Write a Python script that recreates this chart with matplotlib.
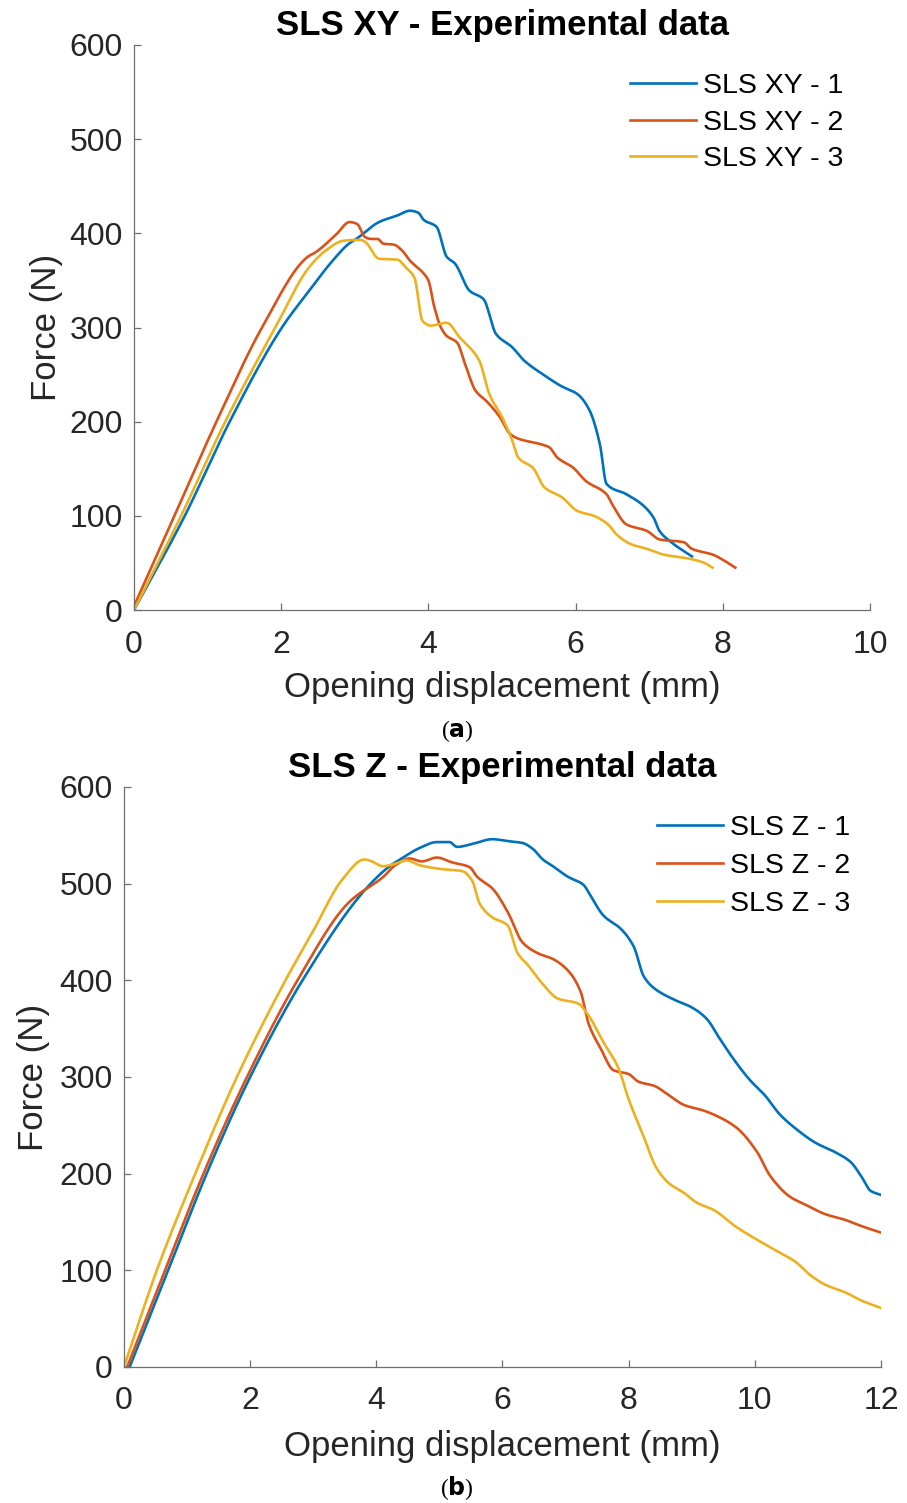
import numpy as np
import matplotlib
matplotlib.use("Agg")
import matplotlib.pyplot as plt

plt.rcParams['font.family'] = ['Liberation Sans', 'DejaVu Sans']

# MATLAB default line colours
colors = ['#0072BD', '#D95319', '#EDB120']

# SLS XY - opening displacement (mm) / force (N)
xy1_x = [0, 0.69, 1.3, 2.01, 2.38, 2.7, 2.92, 3.02, 3.33, 3.58, 3.75, 3.86, 3.94, 4.11, 4.25,
         4.36, 4.56, 4.75, 4.92, 5.14, 5.3, 5.58, 5.8, 6.03, 6.19, 6.33, 6.42, 6.69, 6.92,
         7.06, 7.14, 7.3, 7.58]
xy1_f = [0, 100, 200, 300, 339, 371, 389, 394, 412, 419, 424, 422, 414, 407, 375,
         368, 339, 330, 293, 279, 265, 249, 238, 229, 212, 176, 134, 123, 111,
         98, 84, 72, 57]

xy2_x = [0, 0.55, 1.12, 1.74, 2.36, 2.47, 2.75, 2.93, 3.03, 3.14, 3.22, 3.31, 3.39, 3.53, 3.64,
         3.75, 3.94, 4.0, 4.08, 4.17, 4.25, 4.39, 4.5, 4.64, 4.8, 4.97, 5.11, 5.22, 5.53, 5.64,
         5.75, 5.97, 6.14, 6.42, 6.5, 6.69, 6.97, 7.14, 7.47, 7.58, 7.86, 8.03, 8.17]
xy2_f = [4, 100, 200, 300, 375, 380, 399, 412, 410, 396, 394, 394, 389, 388, 382,
         371, 357, 350, 322, 300, 291, 284, 261, 233, 221, 205, 187, 182, 176, 173,
         162, 151, 137, 123, 112, 91, 84, 75, 72, 65, 59, 52, 45]

xy3_x = [0, 0.64, 1.24, 1.92, 2.38, 2.61, 2.84, 3.02, 3.08, 3.14, 3.33, 3.58, 3.69, 3.81, 3.92,
         4.03, 4.25, 4.42, 4.69, 4.83, 5.0, 5.14, 5.22, 5.42, 5.58, 5.81, 6.03, 6.25, 6.44,
         6.56, 6.75, 6.97, 7.19, 7.58, 7.75, 7.86]
xy3_f = [0, 100, 200, 300, 364, 382, 392, 393, 393, 391, 373, 372, 364, 353, 307,
         302, 305, 290, 265, 229, 205, 180, 162, 151, 130, 120, 105, 100, 91,
         80, 70, 65, 59, 54, 50, 45]

# SLS Z
z1_x = [0.09, 0.7, 1.31, 2.0, 2.83, 3.84, 4.21, 4.4, 4.69, 4.96, 5.16, 5.28, 5.52, 5.84, 6.08,
        6.32, 6.48, 6.64, 6.8, 7.04, 7.28, 7.4, 7.6, 7.88, 8.08, 8.24, 8.4, 8.72, 9.0, 9.24,
        9.44, 9.68, 9.92, 10.16, 10.4, 10.64, 10.96, 11.28, 11.52, 11.68, 11.84, 12.0]
z1_f = [0, 100, 200, 300, 400, 495, 518, 526, 537, 543, 543, 538, 541, 546, 544,
        542, 536, 525, 518, 507, 499, 487, 467, 453, 435, 404, 392, 380, 372, 360,
        340, 317, 297, 281, 261, 247, 232, 222, 212, 198, 182, 178]

z2_x = [0.05, 0.65, 1.26, 1.95, 2.75, 3.57, 4.11, 4.3, 4.53, 4.72, 4.96, 5.2, 5.48, 5.6, 5.84,
        6.08, 6.32, 6.56, 6.8, 7.04, 7.24, 7.36, 7.56, 7.76, 8.0, 8.16, 8.4, 8.64, 8.88, 9.2,
        9.48, 9.72, 10.04, 10.24, 10.56, 10.8, 11.12, 11.44, 11.68, 12.0]
z2_f = [0, 100, 200, 300, 400, 481, 507, 519, 526, 523, 527, 522, 517, 507, 495,
        471, 439, 428, 422, 410, 388, 356, 329, 307, 303, 295, 291, 281, 271, 265,
        257, 247, 222, 198, 176, 168, 158, 152, 146, 139]

z3_x = [0, 0.52, 1.13, 1.79, 2.56, 2.99, 3.47, 3.81, 3.89, 4.11, 4.27, 4.48, 4.69, 5.04, 5.36,
        5.52, 5.64, 5.84, 6.08, 6.24, 6.4, 6.64, 6.88, 7.2, 7.36, 7.6, 7.84, 8.0, 8.24, 8.44,
        8.64, 8.88, 9.08, 9.36, 9.68, 10.0, 10.32, 10.64, 10.88, 11.12, 11.44, 11.68, 12.0]
z3_f = [0, 100, 200, 300, 400, 450, 505, 525, 524, 518, 520, 524, 519, 515, 513,
        503, 479, 465, 457, 428, 416, 396, 381, 376, 364, 336, 309, 277, 238, 206,
        190, 180, 170, 162, 146, 133, 121, 109, 95, 85, 77, 69, 61]

xy_labels = ['SLS XY - 1', 'SLS XY - 2', 'SLS XY - 3']
z_labels = ['SLS Z - 1', 'SLS Z - 2', 'SLS Z - 3']


def pchip(x, y, n=600):
    # monotone cubic (Fritsch-Carlson) through the read points
    x = np.asarray(x, float)
    y = np.asarray(y, float)
    h = np.diff(x)
    d = np.diff(y) / h
    m = np.zeros_like(y)
    m[0], m[-1] = d[0], d[-1]
    for k in range(1, len(x) - 1):
        if d[k - 1] * d[k] > 0:
            w1 = 2 * h[k] + h[k - 1]
            w2 = h[k] + 2 * h[k - 1]
            m[k] = (w1 + w2) / (w1 / d[k - 1] + w2 / d[k])
    xs = np.linspace(x[0], x[-1], n)
    i = np.clip(np.searchsorted(x, xs) - 1, 0, len(x) - 2)
    t = (xs - x[i]) / h[i]
    h00 = 2 * t**3 - 3 * t**2 + 1
    h10 = t**3 - 2 * t**2 + t
    h01 = -2 * t**3 + 3 * t**2
    h11 = t**3 - t**2
    ys = h00 * y[i] + h10 * h[i] * m[i] + h01 * y[i + 1] + h11 * h[i] * m[i + 1]
    return xs, ys


def style_axes(ax, xmax, xticks, xpad, ypad):
    ax.set_xlim(0, xmax)
    ax.set_ylim(0, 600)
    ax.set_xticks(xticks)
    ax.set_yticks(range(0, 601, 100))
    for s in ['top', 'right']:
        ax.spines[s].set_visible(False)
    for s in ['left', 'bottom']:
        ax.spines[s].set_color('#6e6e6e')
        ax.spines[s].set_linewidth(0.9)
    ax.tick_params(direction='in', length=5, width=0.9, color='#6e6e6e',
                   labelsize=23, labelcolor='#262626')
    ax.tick_params(axis='x', pad=14)
    ax.tick_params(axis='y', pad=8)
    ax.set_xlabel('Opening displacement (mm)', fontsize=25, color='#262626', labelpad=xpad)
    ax.set_ylabel('Force (N)', fontsize=25, color='#262626', labelpad=ypad)


fig = plt.figure(figsize=(9.07, 15.03), dpi=100)

ax1 = fig.add_axes([0.1477, 0.5941, 0.8115, 0.376])
for x, f, c, lab in zip([xy1_x, xy2_x, xy3_x], [xy1_f, xy2_f, xy3_f], colors, xy_labels):
    xs, fs = pchip(x, f)
    ax1.plot(xs, fs, color=c, lw=1.9, label=lab)
style_axes(ax1, 10, range(0, 11, 2), 8, 5)
ax1.set_title('SLS XY - Experimental data', fontsize=25, fontweight='bold', pad=7)
ax1.legend(loc='upper left', bbox_to_anchor=(616 / 907, 1 - 59 / 1503),
           bbox_transform=fig.transFigure, frameon=False, fontsize=20.5,
           handlelength=2.3, handletextpad=0.25, labelspacing=0.37, borderpad=0)

ax2 = fig.add_axes([0.1367, 0.0905, 0.8346, 0.3859])
for x, f, c, lab in zip([z1_x, z2_x, z3_x], [z1_f, z2_f, z3_f], colors, z_labels):
    xs, fs = pchip(x, f)
    ax2.plot(xs, fs, color=c, lw=1.9, label=lab)
style_axes(ax2, 12, range(0, 13, 2), 10, 7)
ax2.set_title('SLS Z - Experimental data', fontsize=25, fontweight='bold', pad=7)
ax2.legend(loc='upper left', bbox_to_anchor=(643 / 907, 1 - 801 / 1503),
           bbox_transform=fig.transFigure, frameon=False, fontsize=20.5,
           handlelength=2.3, handletextpad=0.25, labelspacing=0.42, borderpad=0)

fig.text(457 / 907, 1 - 731 / 1503, r'($\mathbf{a}$)', ha='center', va='center',
         fontsize=17, family='Liberation Serif')
fig.text(457 / 907, 1 - 1488 / 1503, r'($\mathbf{b}$)', ha='center', va='center',
         fontsize=17, family='Liberation Serif')

fig.savefig('out.png', dpi=100)
